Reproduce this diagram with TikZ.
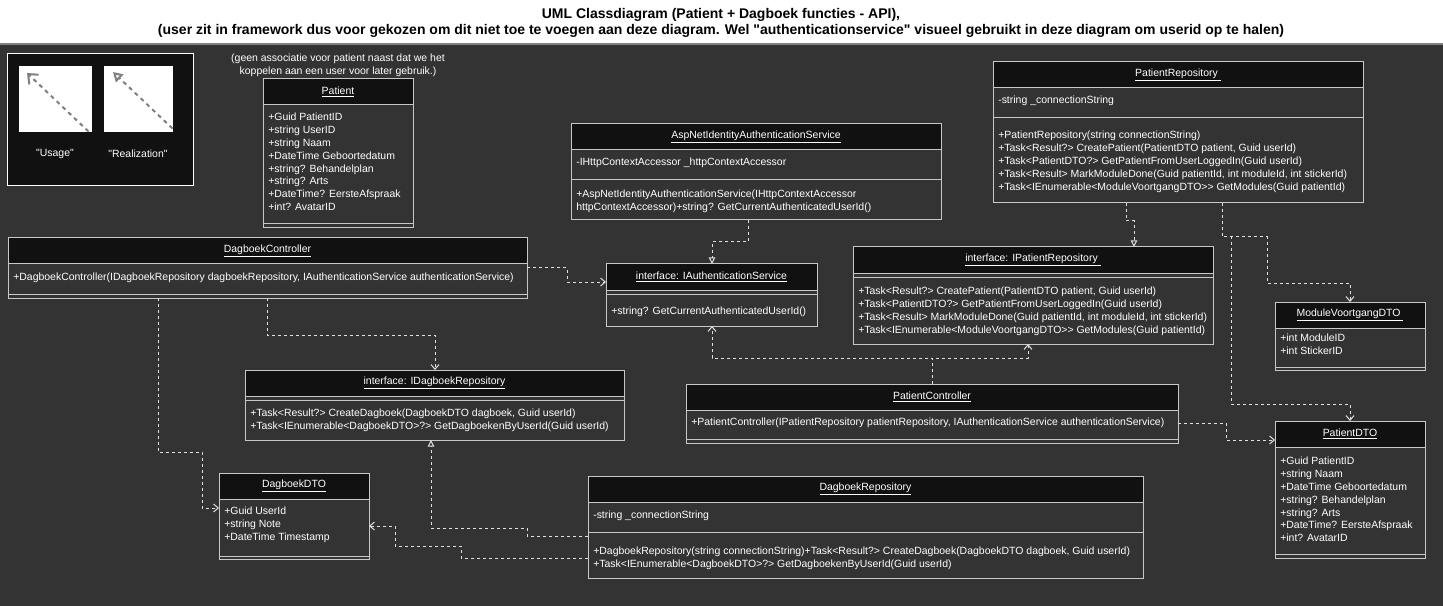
\documentclass[tikz,border=0pt]{standalone}
\usepackage{fontspec}
\setmainfont{Liberation Sans}[Ligatures=TeXOff]
\usetikzlibrary{arrows.meta}

\definecolor{canvasBg}{HTML}{333333}
\definecolor{clsHead}{HTML}{111111}
\definecolor{clsBody}{HTML}{333333}
\definecolor{clsLine}{HTML}{C8C8C8}
\definecolor{edgeCol}{HTML}{E0E0E0}
\definecolor{legendArrow}{HTML}{808080}

\tikzset{
  clsbody/.style={rectangle, fill=clsBody, inner sep=0pt, outer sep=0pt, anchor=north west},
  boxline/.style={draw=clsLine, line width=0.75pt},
  clstitle/.style={text=white, inner sep=0pt, font=\fontsize{7.85}{9.6}\selectfont},
  members/.style={anchor=north west, align=left, text=white, inner sep=0pt, font=\fontsize{7.85}{9.6}\selectfont},
  plain/.style={text=white, inner sep=0pt, font=\fontsize{7.85}{9.6}\selectfont},
  titletext/.style={align=center, inner sep=0pt, font=\fontsize{10.5}{12}\selectfont\bfseries},
  legendbox/.style={rectangle, draw=white, fill=clsHead, line width=0.75pt, inner sep=0pt, anchor=north west},
  sample/.style={rectangle, fill=white, inner sep=0pt, anchor=north west},
  legendarrow/.style={draw=legendArrow, line width=1.5pt, dash pattern=on 3pt off 3pt},
  uses/.style={draw=edgeCol, line width=0.75pt, dash pattern=on 2.25pt off 2.25pt, -{Straight Barb[length=3.5pt,width=6pt]}},
  realizes/.style={draw=edgeCol, line width=0.75pt, dash pattern=on 2.25pt off 2.25pt, -{Triangle[open,length=5pt,width=5pt]}},
}

% box with header, name x y (top left, px) width height title
\newcommand{\umlclass}[6]{%
  \node[clsbody, minimum width=#4*0.75pt, minimum height=#5*0.75pt] (#1) at (#2,#3) {};
  \fill[clsHead] (#1.north west) rectangle ++(#4,26);
  \draw[boxline] (#1.north west) ++(0,26) -- ++(#4,0);
  \draw[boxline] (#1.north west) rectangle (#1.south east);
  \node[clstitle] (#1-title) at ([yshift=-9.75pt]#1.north) {\underline{#6}};
}
\newcommand{\sepline}[2]{\draw[boxline] (#1.west |- 0,#2) -- (#1.east |- 0,#2);}

\begin{document}
\begin{tikzpicture}[x=0.75pt,y=-0.75pt]
  \useasboundingbox (0,0) rectangle (1443,606);
  \fill[white] (0,0) rectangle (1443,44);
  \fill[canvasBg] (0,44) rectangle (1443,606);
  \draw[gray, line width=1pt] (0,44) -- (1443,44);

  \node[titletext] (title) at (721,23) {UML Classdiagram (Patient + Dagboek functies - API),\\(user zit in framework dus voor gekozen om dit niet toe te voegen aan deze diagram. Wel "authenticationservice" visueel gebruikt in deze diagram om userid op te halen)};

  % legend
  \node[legendbox, minimum width=139.5pt, minimum height=99pt] (legend) at (7,53) {};
  \node[sample, minimum width=54.75pt, minimum height=49.5pt] (usagebox) at (19,66) {};
  \node[sample, minimum width=51.75pt, minimum height=49.5pt] (realbox) at (104,66) {};
  \draw[legendarrow, -{Straight Barb[length=6pt,width=10pt]}] ([shift={(-4,-1)}]usagebox.south east) -- ([shift={(8,7)}]usagebox.north west);
  \draw[legendarrow, -{Triangle[open,length=7pt,width=8pt]}] ([shift={(-1,-4)}]realbox.south east) -- ([shift={(9,6)}]realbox.north west);
  \node[plain] (usagelbl) at (55,154) {"Usage"};
  \node[plain] (reallbl) at (138,154) {"Realization"};

  \node[plain, align=center] (patnote) at (338,65) {(geen associatie voor patient naast dat we het\\koppelen aan een user voor later gebruik.)};

  % classes
  \umlclass{pat}{263}{79}{150}{149}{Patient}
  \sepline{pat}{224}
  \node[members] (pat-attr) at (268,113) {+Guid PatientID\\+string UserID\\+string Naam\\+DateTime Geboortedatum\\+string? Behandelplan\\+string? Arts\\+DateTime? EersteAfspraak\\+int? AvatarID};

  \umlclass{asp}{571}{124}{370}{96}{AspNetIdentityAuthenticationService}
  \sepline{asp}{180}
  \node[members] (asp-attr) at (576,158) {-IHttpContextAccessor \_httpContextAccessor};
  \node[members] (asp-ops) at (576,190) {+AspNetIdentityAuthenticationService(IHttpContextAccessor\\httpContextAccessor)+string? GetCurrentAuthenticatedUserId()};

  \umlclass{prepo}{993}{62}{370}{141}{PatientRepository\ }
  \sepline{prepo}{118}
  \node[members] (prepo-attr) at (998,96) {-string \_connectionString};
  \node[members] (prepo-ops) at (998,131) {+PatientRepository(string connectionString)\\+Task<Result?> CreatePatient(PatientDTO patient, Guid userId)\\+Task<PatientDTO?> GetPatientFromUserLoggedIn(Guid userId)\\+Task<Result> MarkModuleDone(Guid patientId, int moduleId, int stickerId)\\+Task<IEnumerable<ModuleVoortgangDTO>> GetModules(Guid patientId)};

  \umlclass{dc}{8}{238}{519}{60}{DagboekController}
  \sepline{dc}{294}
  \node[members] (dc-ops) at (13,273) {+DagboekController(IDagboekRepository dagboekRepository, IAuthenticationService authenticationService)};

  \umlclass{iauth}{606}{264}{211}{62}{interface: IAuthenticationService}
  \sepline{iauth}{294}
  \node[members] (iauth-ops) at (611,307) {+string? GetCurrentAuthenticatedUserId()};

  \umlclass{iprepo}{853}{247}{360}{97}{interface: IPatientRepository\ }
  \sepline{iprepo}{277}
  \node[members] (iprepo-ops) at (858,287) {+Task<Result?> CreatePatient(PatientDTO patient, Guid userId)\\+Task<PatientDTO?> GetPatientFromUserLoggedIn(Guid userId)\\+Task<Result> MarkModuleDone(Guid patientId, int moduleId, int stickerId)\\+Task<IEnumerable<ModuleVoortgangDTO>> GetModules(Guid patientId)};

  \umlclass{mvdto}{1275}{302}{150}{68}{ModuleVoortgangDTO\ }
  \sepline{mvdto}{367}
  \node[members] (mvdto-attr) at (1280,334) {+int ModuleID\\+int StickerID};

  \umlclass{idrepo}{245}{370}{379}{70}{interface: IDagboekRepository}
  \sepline{idrepo}{400}
  \node[members] (idrepo-ops) at (250,409) {+Task<Result?> CreateDagboek(DagboekDTO dagboek, Guid userId)\\+Task<IEnumerable<DagboekDTO>?> GetDagboekenByUserId(Guid userId)};

  \umlclass{pc}{686}{384}{492}{59}{PatientController}
  \sepline{pc}{439}
  \node[members] (pc-ops) at (691,418) {+PatientController(IPatientRepository patientRepository, IAuthenticationService authenticationService)};

  \umlclass{pdto}{1275}{421}{150}{137}{PatientDTO}
  \sepline{pdto}{554}
  \node[members] (pdto-attr) at (1280,457) {+Guid PatientID\\+string Naam\\+DateTime Geboortedatum\\+string? Behandelplan\\+string? Arts\\+DateTime? EersteAfspraak\\+int? AvatarID};

  \umlclass{ddto}{219}{473}{150}{86}{DagboekDTO}
  \sepline{ddto}{556}
  \node[members] (ddto-attr) at (224,507) {+Guid UserId\\+string Note\\+DateTime Timestamp};

  \umlclass{drepo}{588}{476}{555}{102}{DagboekRepository}
  \sepline{drepo}{532}
  \node[members] (drepo-attr) at (593,511) {-string \_connectionString};
  \node[members] (drepo-ops) at (593,547) {+DagboekRepository(string connectionString)+Task<Result?> CreateDagboek(DagboekDTO dagboek, Guid userId)\\+Task<IEnumerable<DagboekDTO>?> GetDagboekenByUserId(Guid userId)};

  % realization
  \draw[realizes] (asp.south -| 748,0) |- (712,242) -- (iauth.north -| 712,0);
  \draw[realizes] (prepo.south -| 1126,0) |- (1134,221) -- (iprepo.north -| 1134,0);
  \draw[realizes] (drepo.west |- 0,536) -- (527,536) |- (431,528) -- (idrepo.south -| 431,0);

  % usage
  \draw[uses] (dc.east |- 0,268) -- (567,268) |- (iauth.west |- 0,282);
  \draw[uses] (dc.south -| 267,0) |- (435,335) -- (idrepo.north -| 435,0);
  \draw[uses] (dc.south -| 158,0) |- (202,452) |- (ddto.west |- 0,508);
  \draw[uses] (drepo.west |- 0,558) -- (461,558) |- (395,546) |- (ddto.east |- 0,526);
  \draw[uses] (prepo.south -| 1222,0) |- (1267,237) |- (1350,283) -- (mvdto.north -| 1350,0);
  \draw[uses] (prepo.south -| 1222,0) |- (1231,237) |- (1350,404) -- (pdto.north -| 1350,0);
  \draw[uses] (pc.east |- 0,423) -- (1226,423) |- (pdto.west |- 0,440);
  \draw[uses] (pc.north -| 932,0) |- (712,358) -- (iauth.south -| 712,0);
  \draw[uses] (pc.north -| 932,0) |- (1028,358) -- (iprepo.south -| 1028,0);
\end{tikzpicture}
\end{document}
